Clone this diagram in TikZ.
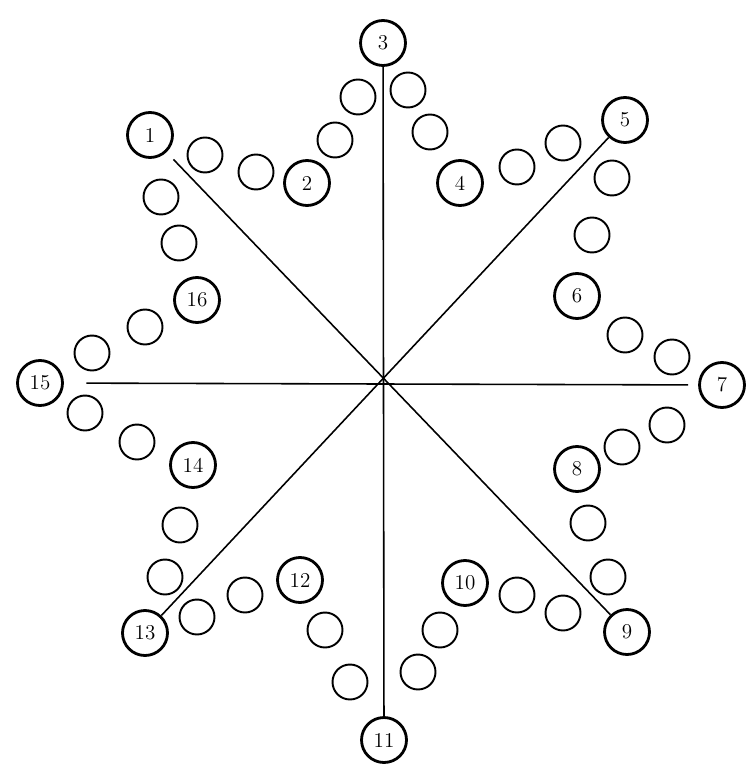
\documentclass[tikz,border=0pt]{standalone}
\usetikzlibrary{positioning}

\begin{document}
\begin{tikzpicture}[
    x=0.02cm, y=-0.02cm,
    num/.style={circle, draw, line width=1.6pt, minimum size=0.9cm, inner sep=0pt, font=\large},
    ring/.style={circle, draw, line width=1.1pt, minimum size=0.7cm, inner sep=0pt},
    every edge/.style={draw, line width=0.9pt}
]
\useasboundingbox (0,0) rectangle (745,766);

% Outer points of the star
\node[num] (N1) at (150, 135) {1};
\node[num] (N3) at (383, 43) {3};
\node[num] (N5) at (625, 120) {5};
\node[num] (N7) at (722, 385) {7};
\node[num] (N9) at (627, 632) {9};
\node[num] (N11) at (384, 740) {11};
\node[num] (N13) at (145, 633) {13};
\node[num] (N15) at (40, 383) {15};

% Inner points of the star
\node[num] (N2) at (307, 183) {2};
\node[num] (N4) at (460, 183) {4};
\node[num] (N6) at (577, 296) {6};
\node[num] (N8) at (577, 469) {8};
\node[num] (N10) at (465, 583) {10};
\node[num] (N12) at (300, 580) {12};
\node[num] (N14) at (193, 465) {14};
\node[num] (N16) at (197, 300) {16};

% Empty circles, two between each pair of numbered ones
\node[ring] (E1_1) at (205, 155) {};
\node[ring] (E1_2) at (256, 172) {};
\node[ring] (E2_1) at (335, 140) {};
\node[ring] (E2_2) at (358, 97) {};
\node[ring] (E3_1) at (408, 90) {};
\node[ring] (E3_2) at (430, 132) {};
\node[ring] (E4_1) at (517, 167) {};
\node[ring] (E4_2) at (563, 143) {};
\node[ring] (E5_1) at (612, 178) {};
\node[ring] (E5_2) at (592, 235) {};
\node[ring] (E6_1) at (625, 335) {};
\node[ring] (E6_2) at (672, 357) {};
\node[ring] (E7_1) at (667, 425) {};
\node[ring] (E7_2) at (622, 447) {};
\node[ring] (E8_1) at (588, 523) {};
\node[ring] (E8_2) at (608, 577) {};
\node[ring] (E9_1) at (563, 613) {};
\node[ring] (E9_2) at (517, 595) {};
\node[ring] (E10_1) at (440, 630) {};
\node[ring] (E10_2) at (418, 672) {};
\node[ring] (E11_1) at (350, 682) {};
\node[ring] (E11_2) at (325, 630) {};
\node[ring] (E12_1) at (245, 595) {};
\node[ring] (E12_2) at (197, 617) {};
\node[ring] (E13_1) at (165, 577) {};
\node[ring] (E13_2) at (180, 525) {};
\node[ring] (E14_1) at (137, 442) {};
\node[ring] (E14_2) at (85, 413) {};
\node[ring] (E15_1) at (92, 353) {};
\node[ring] (E15_2) at (145, 327) {};
\node[ring] (E16_1) at (179, 243) {};
\node[ring] (E16_2) at (161, 197) {};

% Axes through the centre
\path (N3) edge (N11);
\path (N15) edge[shorten <=0.45cm, shorten >=0.2cm] (N7);
\path (N1) edge[shorten <=0.2cm] (N9);
\path (N5) edge (N13);

\end{tikzpicture}
\end{document}
